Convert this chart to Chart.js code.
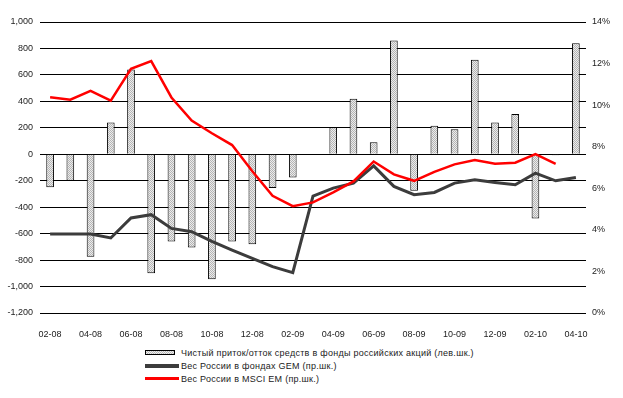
<!DOCTYPE html>
<html>
<head>
<meta charset="utf-8">
<script src="https://cdn.jsdelivr.net/npm/chart.js@4.4.1/dist/chart.umd.min.js"></script>
<style>
  body { margin: 0; background: #fff; }
  #wrap { position: relative; width: 623px; height: 398px; font-family: "Liberation Sans", Arial, sans-serif; }
  #myChart { position: absolute; left: 0; top: 0; }
  #legend { position: absolute; left: 145px; top: 346px; font-size: 9px; color: #222; letter-spacing: 0.27px; }
  .row { height: 13px; display: flex; align-items: center; white-space: nowrap; }
  .sym { width: 35px; margin-right: 1px; display: flex; align-items: center; }
  .box { width: 28px; height: 3px; border: 1px solid #000; background: repeating-conic-gradient(#b8b8b8 0 25%, #eee 0 50%) 0 0 / 2px 2px; }
  .ln { width: 34px; }
</style>
</head>
<body>
<div id="wrap">
  <canvas id="myChart" width="623" height="340"></canvas>
  <div id="legend">
    <div class="row"><div class="sym"><div class="box"></div></div>Чистый приток/отток средств в фонды российских акций (лев.шк.)</div>
    <div class="row"><div class="sym"><div class="ln" style="height:4px;background:#3c3c3c"></div></div>Вес России в фондах GEM (пр.шк.)</div>
    <div class="row"><div class="sym"><div class="ln" style="height:3px;background:#ff0000"></div></div>Вес России в MSCI EM (пр.шк.)</div>
  </div>
</div>
<script>
const months = ['02-08', '03-08', '04-08', '05-08', '06-08', '07-08', '08-08', '09-08', '10-08', '11-08', '12-08',
  '01-09', '02-09', '03-09', '04-09', '05-09', '06-09', '07-09', '08-09', '09-09', '10-09', '11-09', '12-09',
  '01-10', '02-10', '03-10', '04-10'];

// net flows into Russian equity funds, left axis
const flows = [-250, -200, -775, 240, 640, -900, -660, -705, -945, -660, -680,
  -255, -175, null, 205, 420, 90, 860, -275, 215, 190, 715, 240,
  305, -485, -8, 840];

// Russia weight in GEM funds, %, right axis
const gemWeight = [3.80, 3.80, 3.80, 3.61, 4.57, 4.73, 4.07, 3.91, 3.45, 3.03, 2.63,
  2.23, 1.94, 5.62, 6.01, 6.25, 7.08, 6.09, 5.69, 5.80, 6.25, 6.41, 6.28,
  6.17, 6.73, 6.36, 6.52];

// Russia weight in MSCI EM, %, right axis
const msciWeight = [10.38, 10.26, 10.69, 10.22, 11.75, 12.12, 10.37, 9.26, 8.65, 8.08, 6.82,
  5.64, 5.14, 5.32, 5.80, 6.33, 7.29, 6.67, 6.36, 6.79, 7.15, 7.36, 7.18,
  7.23, 7.64, 7.18, null];

const leftTicks = { min: -1200, max: 1000, step: 200 };
const rightTicks = { min: 0, max: 14, step: 2 };

// dotted grey fill for the bars
const pc = document.createElement('canvas');
pc.width = 2; pc.height = 2;
const pctx = pc.getContext('2d');
pctx.fillStyle = '#ececec';
pctx.fillRect(0, 0, 2, 2);
pctx.fillStyle = '#b4b4b4';
pctx.fillRect(0, 0, 1, 1);
pctx.fillRect(1, 1, 1, 1);

const ctx = document.getElementById('myChart').getContext('2d');
const barFill = ctx.createPattern(pc, 'repeat');

Chart.defaults.font.family = '"Liberation Sans", Arial, sans-serif';
Chart.defaults.font.size = 9;
Chart.defaults.color = '#222';

const myChart = new Chart(ctx, {
  type: 'bar',
  data: {
    labels: months,
    datasets: [{
      type: 'bar',
      label: 'Чистый приток/отток средств в фонды российских акций (лев.шк.)',
      data: flows,
      yAxisID: 'y',
      backgroundColor: barFill,
      borderColor: '#000',
      borderWidth: 1,
      barPercentage: 0.38,
      categoryPercentage: 1,
      order: 3
    }, {
      type: 'line',
      label: 'Вес России в фондах GEM (пр.шк.)',
      data: gemWeight,
      yAxisID: 'y1',
      borderColor: '#3c3c3c',
      borderWidth: 3,
      pointRadius: 0,
      tension: 0,
      order: 2
    }, {
      type: 'line',
      label: 'Вес России в MSCI EM (пр.шк.)',
      data: msciWeight,
      yAxisID: 'y1',
      borderColor: '#ff0000',
      borderWidth: 2.5,
      pointRadius: 0,
      tension: 0,
      order: 1
    }]
  },
  options: {
    responsive: false,
    animation: false,
    layout: { padding: { top: 22, left: 0, right: 0, bottom: 0 } },
    plugins: { legend: { display: false }, tooltip: { enabled: false } },
    scales: {
      x: {
        grid: { display: false },
        border: { display: false },
        ticks: {
          autoSkip: false,
          maxRotation: 0,
          padding: 8,
          callback: function(v, i) { return i % 2 === 0 ? months[i] : ''; }
        },
        afterFit: function(s) { s.height = 27; }
      },
      y: {
        position: 'left',
        min: leftTicks.min,
        max: leftTicks.max,
        grid: { color: '#000', lineWidth: 1, drawTicks: false },
        border: { display: false },
        ticks: {
          stepSize: leftTicks.step,
          padding: 7,
          callback: function(v) { return v.toLocaleString('en-US'); }
        },
        afterFit: function(s) { s.width = 40; }
      },
      y1: {
        position: 'right',
        min: rightTicks.min,
        max: rightTicks.max,
        grid: { display: false, drawTicks: false },
        border: { display: false },
        ticks: {
          stepSize: rightTicks.step,
          padding: 6,
          callback: function(v) { return v + '%'; }
        },
        afterFit: function(s) { s.width = 37; }
      }
    }
  }
});
</script>
</body>
</html>
